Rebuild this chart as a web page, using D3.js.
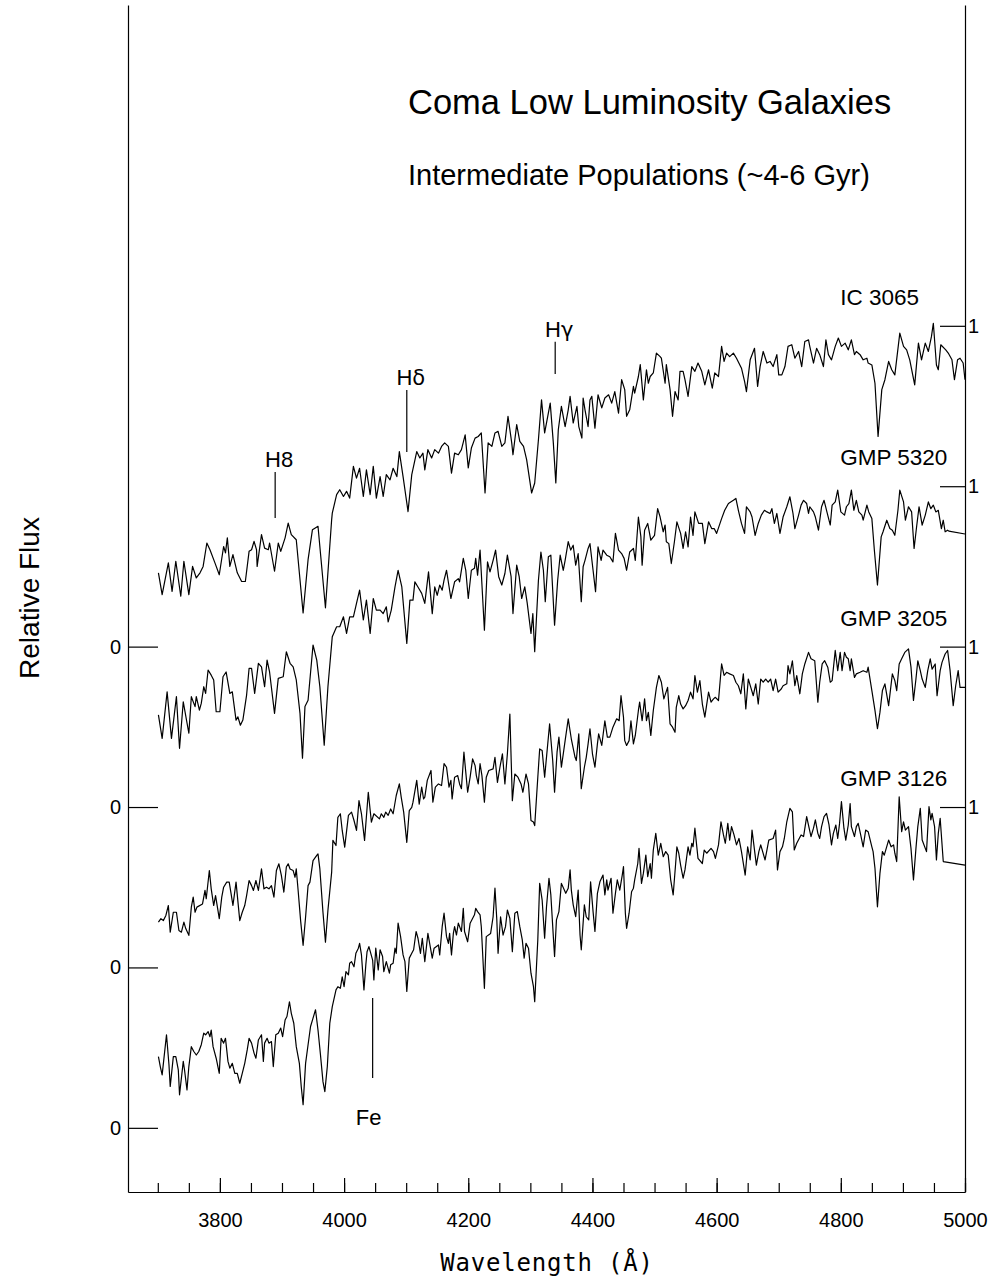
<!DOCTYPE html>
<html><head><meta charset="utf-8">
<script src="https://cdn.jsdelivr.net/npm/d3@7"></script>
<style>body{margin:0;background:#fff}svg{display:block}</style>
</head><body><svg id="c" width="995" height="1284"></svg>
<script>
// ---------------- DATA ----------------
const ic3065 = [[3701,.230],[3707,.162],[3717,.261],[3723,.172],[3729,.266],[3737,.157],[3742,.266],[3750,.162],[3756,.250],[3762,.214],[3768,.230],[3773,.250],[3779,.323],[3784,.302],[3792,.261],[3799,.224],[3806,.312],[3809,.292],[3812,.339],[3816,.250],[3821,.287],[3828,.230],[3835,.203],[3841,.203],[3847,.297],[3851,.302],[3855,.328],[3859,.302],[3860,.250],[3867,.349],[3872,.307],[3878,.302],[3880,.323],[3888,.235],[3894,.323],[3898,.297],[3905,.339],[3910,.385],[3915,.349],[3923,.333],[3934,.105],[3942,.271],[3949,.364],[3953,.369],[3958,.375],[3970,.121],[3980,.396],[3981,.416],[3988,.474],[3993,.489],[3999,.468],[4004,.484],[4009,.463],[4015,.562],[4020,.525],[4025,.556],[4031,.468],[4036,.551],[4042,.474],[4047,.562],[4052,.463],[4058,.530],[4063,.468],[4068,.536],[4074,.520],[4079,.556],[4085,.530],[4089,.608],[4095,.530],[4103,.421],[4109,.536],[4117,.608],[4122,.588],[4127,.603],
[4130,.551],[4135,.614],[4141,.588],[4146,.614],[4152,.603],[4157,.624],[4162,.635],[4168,.624],[4173,.541],[4178,.603],[4184,.598],[4189,.614],[4195,.660],[4200,.557],[4205,.619],[4211,.650],[4216,.655],[4221,.666],[4227,.479],[4232,.635],[4238,.624],[4243,.666],[4248,.671],[4254,.624],[4259,.635],[4264,.718],[4270,.635],[4272,.598],[4278,.692],[4283,.640],[4289,.624],[4294,.583],[4302,.479],[4307,.510],[4313,.645],[4318,.769],[4323,.666],[4332,.759],[4337,.635],[4341,.510],[4345,.676],[4350,.749],[4356,.686],[4361,.738],[4364,.780],[4369,.697],[4375,.749],[4378,.686],[4383,.650],[4385,.775],[4388,.738],[4393,.686],[4396,.769],[4399,.780],[4404,.681],[4409,.785],[4415,.744],[4420,.775],[4426,.785],[4431,.759],[4436,.795],[4442,.728],[4447,.832],[4452,.801],[4455,.718],[4460,.738],[4466,.811],[4468,.790],[4474,.842],[4477,.879],[4482,.769],[4487,.863],[4490,.821],[4493,.842],[4498,.853],[4503,.915],[4509,.904],[4511,.899],[4517,.821],[4519,.879],[4525,.801],[4529,.718],[4533,.795],[4538,.769],[4541,.858],[4546,.858],[4549,.832],[4554,.780],[4560,.873],
[4565,.858],[4570,.884],[4576,.858],[4581,.816],[4587,.863],[4593,.806],[4597,.853],[4603,.842],[4608,.936],[4612,.889],[4616,.915],[4621,.904],[4627,.915],[4632,.899],[4640,.868],[4645,.827],[4648,.795],[4654,.894],[4661,.930],[4666,.811],[4670,.873],[4675,.920],[4681,.884],[4686,.889],[4691,.873],[4697,.910],[4700,.847],[4705,.847],[4710,.873],[4715,.936],[4721,.941],[4726,.899],[4732,.920],[4737,.873],[4742,.951],[4748,.956],[4750,.936],[4756,.884],[4761,.930],[4766,.910],[4772,.873],[4776,.956],[4780,.910],[4785,.894],[4791,.936],[4796,.962],[4801,.936],[4807,.946],[4812,.925],[4817,.956],[4822,.910],[4825,.920],[4831,.910],[4836,.894],[4842,.899],[4844,.884],[4850,.878],[4855,.821],[4860,.655],[4866,.801],[4871,.832],[4877,.889],[4882,.863],[4887,.847],[4895,.977],[4901,.936],[4906,.925],[4911,.894],[4919,.816],[4925,.946],[4930,.894],[4936,.946],[4941,.920],[4946,.967],[4949,1.008],[4954,.878],[4957,.863],[4961,.941],[4969,.925],[4973,.915],[4979,.894],[4983,.832],[4988,.894],[4992,.899],[4997,.884],[5000,.832]];

const gmp5320 = [[3701,.287],[3707,.214],[3715,.359],[3722,.214],[3730,.344],[3735,.183],[3741,.328],[3750,.230],[3754,.344],[3760,.313],[3762,.344],[3767,.302],[3770,.323],[3774,.375],[3777,.354],[3781,.427],[3786,.411],[3790,.396],[3794,.297],[3800,.297],[3805,.406],[3810,.421],[3816,.354],[3820,.359],[3826,.271],[3829,.281],[3833,.255],[3837,.271],[3843,.349],[3847,.432],[3851,.432],[3856,.354],[3862,.448],[3867,.437],[3872,.375],[3876,.458],[3880,.421],[3888,.292],[3894,.401],[3902,.406],[3907,.484],[3913,.448],[3918,.437],[3923,.396],[3929,.292],[3933,.152],[3937,.313],[3942,.333],[3950,.505],[3956,.458],[3961,.375],[3968,.193],[3974,.375],[3981,.531],[3988,.562],[3993,.562],[3999,.593],[4004,.541],[4009,.593],[4015,.593],[4020,.635],[4025,.676],[4031,.583],[4036,.645],[4042,.541],[4047,.650],[4052,.614],[4058,.614],[4063,.603],[4068,.624],[4071,.577],[4076,.614],[4082,.686],[4087,.738],[4093,.686],[4101,.510],[4106,.645],[4111,.645],[4114,.702],[4119,.686],[4125,.666],
[4130,.635],[4136,.733],[4142,.603],[4146,.686],[4150,.660],[4154,.692],[4158,.676],[4161,.707],[4165,.738],[4172,.650],[4178,.702],[4184,.712],[4186,.702],[4192,.775],[4196,.738],[4200,.650],[4205,.738],[4210,.744],[4212,.775],[4215,.723],[4219,.801],[4226,.551],[4231,.764],[4235,.733],[4240,.769],[4244,.801],[4249,.718],[4254,.692],[4259,.728],[4263,.785],[4269,.718],[4272,.603],[4278,.754],[4282,.718],[4286,.650],[4291,.686],[4295,.635],[4301,.541],[4304,.603],[4307,.484],[4313,.707],[4317,.795],[4321,.738],[4324,.640],[4329,.780],[4333,.785],[4339,.567],[4344,.707],[4348,.785],[4353,.738],[4356,.769],[4361,.827],[4365,.801],[4369,.816],[4373,.754],[4377,.790],[4382,.640],[4385,.749],[4388,.769],[4393,.806],[4396,.821],[4401,.738],[4405,.671],[4409,.811],[4414,.769],[4417,.801],[4423,.785],[4428,.780],[4433,.764],[4437,.853],[4442,.801],[4447,.790],[4451,.775],[4455,.738],[4460,.795],[4466,.806],[4469,.769],[4474,.904],[4478,.842],[4480,.754],[4484,.863],[4489,.884],[4494,.832],[4500,.847],[4505,.930],[4509,.904],[4514,.858],[4517,.879],[4519,.827],[4523,.821],[4527,.759],[4532,.827],[4536,.889],[4542,.853],[4546,.806],[4550,.858],[4554,.811],[4558,.904],[4562,.847],
[4565,.920],[4571,.884],[4577,.884],[4581,.821],[4587,.889],[4592,.868],[4596,.868],[4600,.853],[4608,.899],[4613,.925],[4619,.946],[4627,.956],[4631,.962],[4635,.925],[4640,.884],[4645,.853],[4648,.936],[4654,.920],[4657,.904],[4662,.847],[4667,.884],[4672,.910],[4677,.925],[4681,.920],[4686,.915],[4689,.930],[4693,.884],[4697,.915],[4702,.853],[4707,.904],[4713,.936],[4718,.967],[4723,.915],[4726,.868],[4732,.910],[4736,.941],[4740,.956],[4745,.946],[4748,.915],[4750,.936],[4756,.920],[4759,.904],[4764,.863],[4769,.936],[4773,.956],[4777,.925],[4783,.879],[4786,.941],[4791,.951],[4795,.988],[4800,.920],[4806,.910],[4809,.936],[4813,.946],[4817,.988],[4821,.925],[4825,.956],[4829,.920],[4834,.910],[4836,.894],[4842,.941],[4845,.920],[4850,.899],[4854,.801],[4859,.692],[4865,.842],[4868,.858],[4874,.894],[4879,.868],[4883,.863],[4887,.847],[4892,.925],[4895,.988],[4901,.951],[4904,.894],[4909,.936],[4914,.920],[4918,.806],[4922,.873],[4926,.936],[4931,.879],[4936,.910],[4941,.951],[4945,.930],[4949,.941],[4953,.920],[4957,.925],[4962,.868],[4965,.894],[4968,.858],[4972,.863],[4974,.860],[5000,.851]];

const gmp3205 = [[3701,.141],[3705,.152],[3709,.146],[3713,.162],[3717,.193],[3720,.110],[3725,.172],[3730,.172],[3734,.115],[3738,.110],[3742,.141],[3745,.121],[3750,.100],[3754,.188],[3757,.219],[3760,.172],[3763,.188],[3772,.198],[3776,.240],[3778,.214],[3783,.302],[3786,.245],[3790,.193],[3793,.224],[3799,.152],[3803,.219],[3806,.250],[3811,.266],[3815,.266],[3818,.230],[3821,.193],[3826,.266],[3832,.146],[3836,.172],[3840,.193],[3843,.224],[3847,.271],[3851,.255],[3854,.240],[3858,.271],[3862,.240],[3867,.307],[3871,.245],[3875,.250],[3879,.245],[3883,.255],[3887,.219],[3891,.302],[3895,.323],[3899,.287],[3903,.235],[3907,.313],[3910,.323],[3913,.307],[3918,.302],[3921,.281],[3923,.307],[3926,.240],[3930,.146],[3934,.069],[3938,.157],[3942,.255],[3945,.266],[3950,.333],[3956,.349],[3958,.354],[3961,.307],[3966,.172],[3970,.079],[3974,.178],[3980,.297],[3982,.396],[3987,.380],[3990,.468],[3994,.479],[3997,.427],[4001,.375],[4007,.474],[4012,.484],[4016,.458],[4020,.427],[4024,.520],[4028,.479],[4033,.396],[4039,.546],[4044,.453],[4048,.479],[4057,.463],[4060,.479],[4064,.468],[4067,.484],[4071,.474],[4075,.494],[4079,.479],[4084,.536],[4089,.572],[4092,.531],[4096,.484],[4101,.390],[4105,.489],[4109,.499],[4111,.515],[4117,.583],[4121,.509],[4125,.562],[4128,.525],
[4130,.531],[4134,.583],[4140,.614],[4143,.515],[4147,.562],[4152,.572],[4157,.567],[4161,.635],[4165,.624],[4169,.562],[4172,.583],[4174,.525],[4178,.593],[4183,.598],[4186,.572],[4189,.557],[4193,.671],[4199,.546],[4203,.593],[4207,.650],[4211,.629],[4213,.598],[4216,.572],[4219,.635],[4222,.598],[4226,.515],[4229,.593],[4233,.614],[4240,.619],[4243,.655],[4247,.577],[4251,.624],[4255,.666],[4259,.572],[4263,.666],[4267,.790],[4271,.520],[4275,.603],[4280,.593],[4285,.572],[4288,.546],[4293,.603],[4297,.572],[4301,.458],[4305,.453],[4307,.442],[4312,.593],[4315,.681],[4319,.676],[4323,.593],[4331,.759],[4336,.645],[4339,.546],[4343,.671],[4346,.718],[4350,.624],[4356,.707],[4361,.775],[4366,.712],[4372,.655],[4374,.645],[4378,.728],[4382,.557],[4387,.624],[4390,.655],[4393,.697],[4396,.744],[4400,.666],[4404,.624],[4408,.697],[4410,.728],[4415,.692],[4420,.769],[4424,.718],[4428,.718],[4433,.749],[4439,.775],[4443,.769],[4446,.847],[4450,.780],[4452,.707],[4455,.692],[4459,.707],[4462,.769],[4466,.697],[4469,.723],[4474,.801],[4476,.827],[4480,.769],[4484,.837],[4487,.769],[4490,.795],[4494,.723],[4498,.801],[4503,.873],[4507,.910],[4511,.889],[4515,.837],[4521,.873],[4525,.759],[4529,.749],[4533,.733],[4535,.811],[4539,.847],[4542,.821],[4546,.806],[4550,.816],[4554,.832],[4558,.858],[4562,.837],
[4565,.910],[4569,.858],[4573,.894],[4577,.821],[4581,.780],[4587,.858],[4591,.827],[4595,.837],[4598,.842],[4603,.832],[4608,.946],[4612,.910],[4616,.920],[4621,.915],[4627,.910],[4631,.889],[4635,.878],[4639,.853],[4643,.915],[4647,.806],[4651,.899],[4655,.873],[4659,.847],[4663,.884],[4667,.821],[4671,.899],[4675,.889],[4679,.899],[4683,.889],[4687,.899],[4691,.863],[4695,.899],[4699,.858],[4704,.868],[4707,.878],[4713,.884],[4715,.941],[4718,.915],[4722,.956],[4726,.878],[4729,.910],[4734,.853],[4738,.915],[4742,.946],[4748,.982],[4752,.962],[4758,.956],[4763,.827],[4766,.889],[4770,.946],[4774,.956],[4779,.936],[4783,.889],[4786,.894],[4791,.988],[4795,.925],[4799,.982],[4802,.925],[4806,.982],[4809,.967],[4812,.962],[4815,.925],[4817,.962],[4822,.904],[4825,.915],[4831,.920],[4836,.925],[4842,.920],[4844,.936],[4850,.863],[4855,.801],[4859,.744],[4863,.795],[4867,.863],[4871,.884],[4877,.816],[4883,.915],[4887,.894],[4890,.863],[4894,.946],[4898,.962],[4903,.982],[4909,.993],[4913,.936],[4917,.832],[4921,.899],[4924,.956],[4928,.925],[4931,.899],[4936,.873],[4940,.925],[4944,.962],[4947,.930],[4952,.946],[4955,.847],[4960,.925],[4963,.951],[4968,.977],[4972,.988],[4976,.925],[4981,.816],[4985,.878],[4989,.925],[4992,.873],[5000,.873]];

const gmp3126 = [[3701,.222],[3704,.191],[3707,.165],[3714,.290],[3718,.196],[3720,.129],[3725,.222],[3729,.222],[3733,.181],[3735,.103],[3741,.207],[3743,.181],[3747,.118],[3750,.191],[3754,.253],[3758,.238],[3762,.227],[3766,.238],[3770,.259],[3774,.295],[3777,.290],[3781,.300],[3784,.284],[3786,.305],[3789,.253],[3794,.217],[3799,.170],[3802,.279],[3806,.264],[3809,.279],[3813,.207],[3816,.186],[3820,.201],[3824,.170],[3828,.170],[3832,.139],[3836,.170],[3840,.201],[3844,.243],[3847,.279],[3851,.264],[3855,.233],[3858,.217],[3862,.274],[3867,.290],[3870,.207],[3872,.264],[3876,.279],[3879,.264],[3883,.269],[3886,.191],[3890,.290],[3894,.295],[3898,.311],[3901,.284],[3905,.336],[3908,.347],[3912,.393],[3915,.357],[3919,.326],[3923,.253],[3928,.201],[3931,.129],[3934,.072],[3938,.201],[3942,.259],[3946,.316],[3950,.342],[3954,.368],[3958,.305],[3962,.227],[3966,.144],[3969,.113],[3973,.191],[3977,.326],[3981,.378],[3987,.430],[3990,.440],[3994,.435],[3997,.471],[4000,.440],[4003,.487],[4007,.477],[4009,.513],[4012,.518],[4016,.502],[4019,.544],[4023,.560],[4025,.575],[4028,.539],[4032,.430],[4035,.508],[4037,.549],[4040,.565],[4043,.544],[4046,.523],[4048,.461],[4051,.560],[4055,.492],[4058,.555],[4062,.534],[4064,.487],[4068,.518],[4073,.482],[4075,.508],[4079,.513],[4082,.560],[4084,.544],[4087,.638],[4091,.596],[4095,.539],[4098,.518],[4101,.425],[4105,.529],[4109,.544],[4112,.555],[4116,.612],[4119,.591],[4123,.544],[4126,.591],
[4130,.518],[4135,.606],[4142,.529],[4145,.560],[4152,.570],[4154,.539],[4158,.627],[4161,.669],[4165,.596],[4168,.575],[4170,.606],[4173,.539],[4176,.606],[4178,.627],[4181,.601],[4184,.638],[4189,.612],[4192,.684],[4194,.612],[4199,.580],[4203,.638],[4210,.664],[4212,.684],[4215,.674],[4219,.664],[4221,.627],[4226,.435],[4229,.596],[4236,.606],[4240,.658],[4243,.747],[4246,.648],[4248,.544],[4252,.658],[4256,.601],[4260,.627],[4263,.679],[4267,.653],[4271,.549],[4275,.669],[4279,.674],[4283,.627],[4287,.586],[4290,.529],[4293,.575],[4297,.560],[4301,.482],[4305,.440],[4307,.393],[4312,.586],[4315,.762],[4319,.710],[4323,.591],[4326,.689],[4330,.778],[4333,.726],[4337,.596],[4339,.534],[4342,.648],[4346,.674],[4350,.762],[4357,.731],[4361,.747],[4364,.804],[4366,.741],[4369,.695],[4373,.658],[4377,.741],[4380,.601],[4382,.555],[4387,.695],[4390,.658],[4394,.648],[4397,.767],[4401,.674],[4404,.612],[4408,.731],[4412,.767],[4417,.788],[4420,.726],[4423,.773],[4425,.741],[4430,.778],[4433,.669],[4437,.731],[4440,.773],[4444,.741],[4448,.788],[4450,.814],[4453,.669],[4455,.622],[4459,.669],[4463,.736],[4466,.747],[4468,.773],[4473,.824],[4475,.871],[4479,.762],[4482,.793],[4486,.850],[4489,.783],[4493,.824],[4495,.778],[4498,.866],[4502,.918],[4506,.850],[4510,.887],[4514,.845],[4518,.861],[4522,.850],[4526,.773],[4530,.726],[4534,.824],[4536,.876],[4539,.856],[4542,.819],[4546,.778],[4549,.804],[4554,.876],[4557,.850],[4560,.887],[4562,.876],
[4565,.934],[4570,.840],[4577,.824],[4580,.866],[4584,.856],[4591,.871],[4595,.861],[4598,.840],[4603,.882],[4607,.954],[4611,.913],[4614,.887],[4618,.949],[4621,.897],[4624,.939],[4628,.913],[4632,.882],[4636,.902],[4640,.861],[4646,.788],[4650,.876],[4654,.835],[4657,.928],[4664,.819],[4668,.861],[4671,.882],[4678,.835],[4681,.866],[4684,.897],[4691,.902],[4695,.928],[4698,.804],[4702,.861],[4706,.876],[4709,.902],[4713,.954],[4718,.996],[4722,.985],[4725,.866],[4729,.887],[4736,.913],[4740,.908],[4745,.970],[4749,.934],[4752,.908],[4756,.934],[4759,.960],[4763,.918],[4766,.902],[4769,.939],[4773,.970],[4777,.980],[4781,.944],[4785,.882],[4788,.918],[4792,.944],[4795,.902],[4798,.949],[4801,1.017],[4805,.934],[4808,.897],[4812,.944],[4815,1.011],[4817,.939],[4822,.908],[4825,.939],[4828,.949],[4832,.913],[4836,.876],[4840,.928],[4844,.923],[4850,.876],[4852,.861],[4855,.809],[4859,.689],[4863,.793],[4867,.861],[4870,.850],[4877,.897],[4881,.876],[4885,.882],[4887,.856],[4890,.830],[4894,1.032],[4898,.923],[4901,.954],[4904,.928],[4909,.939],[4913,.871],[4917,.773],[4921,.871],[4924,.939],[4928,.996],[4931,.897],[4938,.861],[4942,1.001],[4945,.960],[4947,.980],[4951,.939],[4954,.835],[4957,.918],[4960,.965],[4965,.830],[5000,.819]];

const galaxyNames = ["IC 3065", "GMP 5320", "GMP 3205", "GMP 3126"];
const galaxyOffsets = [1.5, 1.0, 0.5, 0.0];
const xTickLabels = [3800, 4000, 4200, 4400, 4600, 4800, 5000];
const xMinorTicks = [3700,3750,3800,3850,3900,3950,4000,4050,4100,4150,4200,4250,4300,4350,4400,4450,4500,4550,4600,4650,4700,4750,4800,4850,4900,4950,5000];
// spectral line markers: [label, wavelength, galaxy index, flux from, flux to]
const lineMarkers = [["H8", 3889, 0, 0.401, 0.544], ["Hδ", 4101, 0, 0.607, 0.800], ["Hγ", 4340, 0, 0.850, 0.950], ["Fe", 4046, 3, 0.155, 0.405]];
const titleText = "Coma Low Luminosity Galaxies";
const subtitleText = "Intermediate Populations (~4-6 Gyr)";

// ---------------- CHART ----------------
const spectra = [ic3065, gmp5320, gmp3205, gmp3126];
const svg = d3.select("#c");
const FONT = "'Liberation Sans', Arial, sans-serif";
const x = d3.scaleLinear().domain([3652, 5000]).range([128, 965]);
const y = d3.scaleLinear().domain([-0.2, 3.5]).range([1192, 5]);

// frame lines / axes
const gx = svg.append("g").attr("transform", "translate(0,1192)");
gx.call(d3.axisBottom(x).tickValues(xMinorTicks).tickSize(-9).tickSizeOuter(0).tickFormat(""));
const gx2 = svg.append("g").attr("transform", "translate(0,1192)");
gx2.call(d3.axisBottom(x).tickValues(xTickLabels).tickSize(-14).tickSizeOuter(0).tickPadding(21).tickFormat(d3.format("d")));
gx2.select(".domain").remove();
gx2.selectAll("text").attr("font-family", FONT).attr("font-size", 20).attr("fill", "#000");

const gl = svg.append("g").attr("transform", "translate(128,0)");
gl.call(d3.axisLeft(y).tickValues(galaxyOffsets).tickSize(-30).tickSizeOuter(0).tickPadding(7).tickFormat(() => "0"));
gl.selectAll("text").attr("font-family", FONT).attr("font-size", 20).attr("fill", "#000");

const gr = svg.append("g").attr("transform", "translate(965,0)");
gr.call(d3.axisRight(y).tickValues(galaxyOffsets.map(o => o + 1)).tickSize(-25).tickSizeOuter(0).tickPadding(3).tickFormat(() => "1"));
gr.selectAll("text").attr("font-family", FONT).attr("font-size", 20).attr("fill", "#000");

svg.selectAll(".domain, .tick line").attr("stroke", "#000").attr("stroke-width", 1.2);

// spectra
spectra.forEach((s, i) => {
  const off = galaxyOffsets[i];
  const line = d3.line().x(d => x(d[0])).y(d => y(d[1] + off));
  svg.append("path").datum(s).attr("d", line)
    .attr("fill", "none").attr("stroke", "#000").attr("stroke-width", 1.2).attr("stroke-linejoin", "round");
  svg.append("text").attr("x", x(4799)).attr("y", y(off + 1) - 21)
    .attr("font-family", FONT).attr("font-size", 22.5).text(galaxyNames[i]);
});

// line markers
lineMarkers.forEach(([lab, wl, gi, f0, f1]) => {
  const off = galaxyOffsets[gi];
  svg.append("line").attr("x1", x(wl)).attr("x2", x(wl)).attr("y1", y(off + f0)).attr("y2", y(off + f1))
    .attr("stroke", "#000").attr("stroke-width", 1.2);
  const below = lab === "Fe";
  const t = svg.append("text").attr("text-anchor", "middle").attr("font-family", FONT).attr("font-size", 22)
    .attr("x", x(wl) + (below ? -4 : 4))
    .attr("y", below ? y(off + f0) + 47 : y(off + f1) - 5);
  if (lab.length === 2 && lab[0] === "H" && lab[1] !== "8") {
    t.append("tspan").text("H");
    t.append("tspan").attr("font-family", "'DejaVu Sans', sans-serif").attr("font-size", 21).text(lab[1]);
  } else t.text(lab);
});

// titles
svg.append("text").attr("x", 408).attr("y", 114).attr("font-family", FONT).attr("font-size", 34.5).text(titleText);
svg.append("text").attr("x", 408).attr("y", 185).attr("font-family", FONT).attr("font-size", 29).text(subtitleText);

// axis titles
svg.append("text").attr("transform", "translate(39,598) rotate(-90)").attr("text-anchor", "middle")
  .attr("font-family", FONT).attr("font-size", 28).text("Relative Flux");
svg.append("text").attr("x", 547).attr("y", 1271).attr("text-anchor", "middle")
  .attr("font-family", "'DejaVu Sans Mono', monospace").attr("font-size", 24).attr("letter-spacing", 0.8).text("Wavelength (Å)");
</script></body></html>
